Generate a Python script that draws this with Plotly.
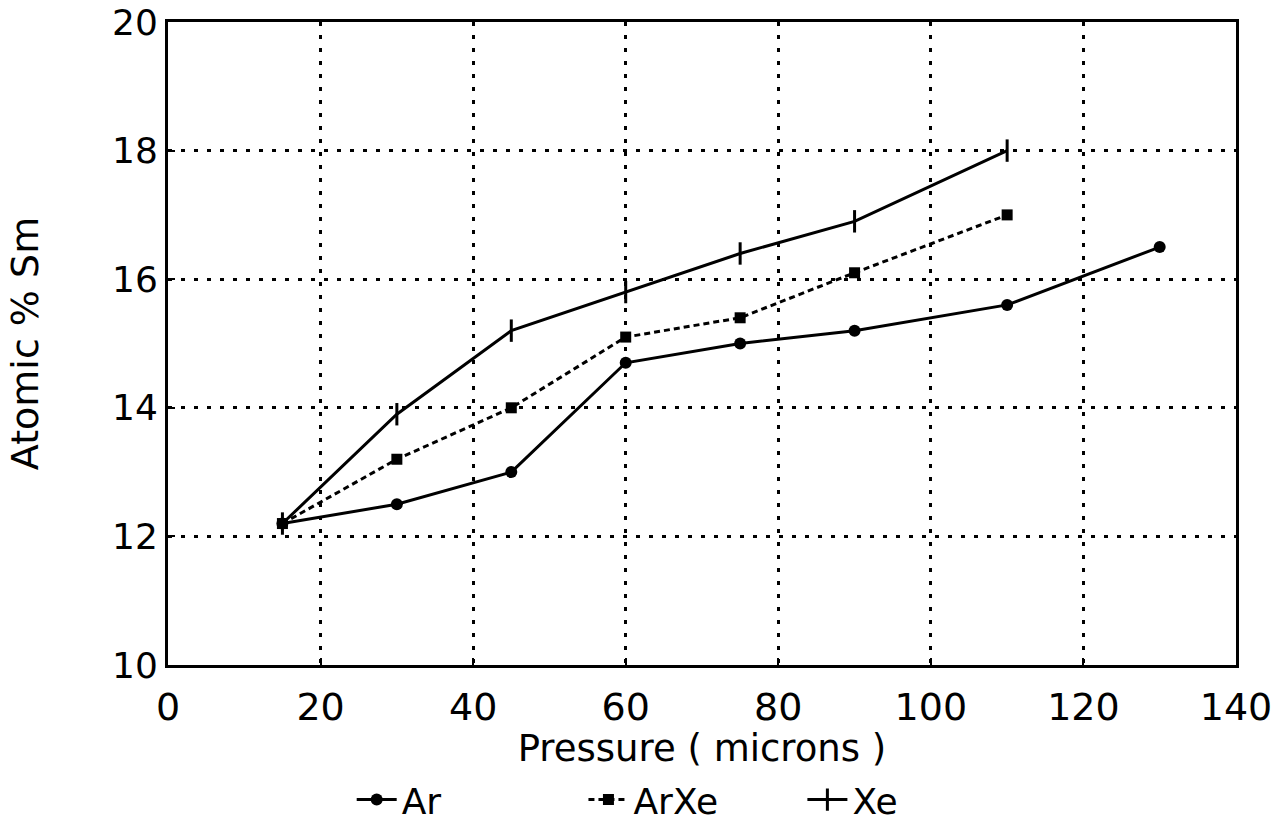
import plotly.graph_objects as go

# Data
pressure_ar = [15, 30, 45, 60, 75, 90, 110, 130]
sm_ar = [12.2, 12.5, 13.0, 14.7, 15.0, 15.2, 15.6, 16.5]

pressure_arxe = [15, 30, 45, 60, 75, 90, 110]
sm_arxe = [12.2, 13.2, 14.0, 15.1, 15.4, 16.1, 17.0]

pressure_xe = [15, 30, 45, 60, 75, 90, 110]
sm_xe = [12.2, 13.9, 15.2, 15.8, 16.4, 16.9, 18.0]

x_ticks = [0, 20, 40, 60, 80, 100, 120, 140]
y_ticks = [10, 12, 14, 16, 18, 20]

FONT = "DejaVu Sans, Arial, sans-serif"

fig = go.Figure()
fig.add_trace(go.Scatter(
    x=pressure_ar, y=sm_ar, name="Ar", mode="lines+markers",
    line=dict(color="black", width=3),
    marker=dict(symbol="circle", size=12, color="black"),
    legend="legend",
))
fig.add_trace(go.Scatter(
    x=pressure_arxe, y=sm_arxe, name="ArXe", mode="lines+markers",
    line=dict(color="black", width=3, dash="6px,4px"),
    marker=dict(symbol="square", size=11, color="black"),
    legend="legend2",
))
fig.add_trace(go.Scatter(
    x=pressure_xe, y=sm_xe, name="Xe", mode="lines+markers",
    line=dict(color="black", width=3),
    marker=dict(symbol="line-ns", size=16, color="black",
                line=dict(color="black", width=3)),
    legend="legend3",
))

axis_common = dict(
    showline=True, linecolor="black", linewidth=3, mirror=True,
    showgrid=True, gridcolor="black", gridwidth=3, griddash="4px,9px",
    ticks="inside", ticklen=7, tickwidth=2, tickcolor="black",
    zeroline=False, automargin=False,
)

fig.update_xaxes(
    range=[0, 140], tickvals=x_ticks,
    tickfont=dict(family=FONT, size=38, color="black"),
    ticklabelstandoff=6,
    title=dict(text="Pressure ( microns )", standoff=4,
               font=dict(family=FONT, size=37, color="black")),
    **axis_common,
)
fig.update_yaxes(
    range=[10, 20], tickvals=y_ticks,
    tickfont=dict(family=FONT, size=36, color="black"),
    title=dict(text="Atomic\u00a0%\u00a0Sm", standoff=62,
               font=dict(family=FONT, size=38, color="black")),
    **axis_common,
)

legend_common = dict(
    orientation="h", yref="container", yanchor="middle", y=0.033,
    xanchor="left",
    font=dict(family=FONT, size=36, color="black"),
    bgcolor="rgba(0,0,0,0)", itemwidth=40,
)

fig.update_layout(
    width=1279, height=827,
    margin=dict(l=168, r=43, t=22, b=162, autoexpand=False),
    paper_bgcolor="white", plot_bgcolor="white",
    showlegend=True,
    legend=dict(x=0.172, **legend_common),
    legend2=dict(x=0.389, **legend_common),
    legend3=dict(x=0.594, **legend_common),
)

fig.write_html("out.html")
